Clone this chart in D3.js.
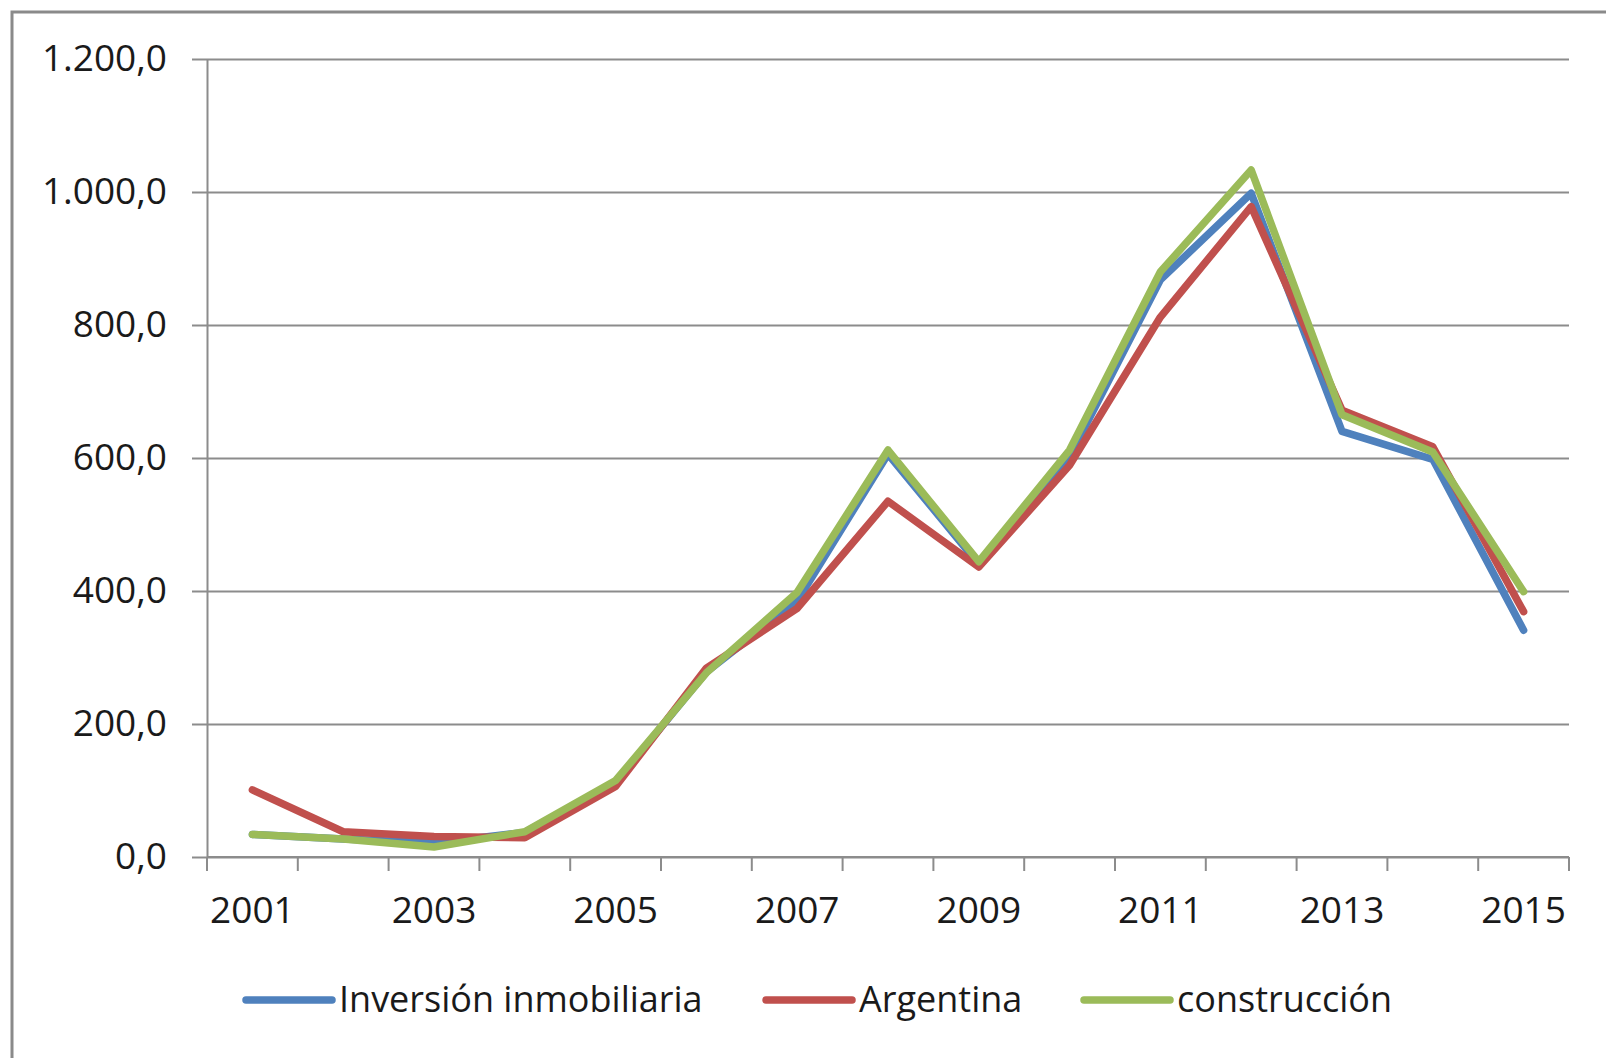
<!DOCTYPE html>
<html>
<head>
<meta charset="utf-8">
<script src="https://cdn.jsdelivr.net/npm/d3@7/dist/d3.min.js"></script>
<style>
    body { margin: 0; background: #fff; }
    svg text { font-family: "Open Sans", sans-serif; fill: #1a1a1a; }
</style>
</head>
<body>
<svg id="chart" width="1606" height="1058"></svg>
<script>

// Chart data
var years = ['2001', '2002', '2003', '2004', '2005', '2006', '2007', '2008',
             '2009', '2010', '2011', '2012', '2013', '2014', '2015'];
var yearLabels = ['2001', '2003', '2005', '2007', '2009', '2011', '2013', '2015'];
var yTicks = [0, 200, 400, 600, 800, 1000, 1200];

var inversion    = [34, 27, 21, 37, 112, 278, 385, 606, 440, 602, 868, 998, 640, 598, 341];
var argentina    = [101, 38, 31, 29, 106, 284, 374, 535, 436, 589, 812, 978, 672, 617, 369];
var construccion = [34, 27, 15, 38, 115, 277, 398, 612, 444, 612, 880, 1033, 665, 609, 399];

var seriesNames  = ['Inversión inmobiliaria', 'Argentina', 'construcción'];
var seriesColors = ['#4F81BD', '#C0504D', '#9BBB59'];

var series = [inversion, argentina, construccion];

var svg = d3.select('#chart');

var esLocale = d3.formatLocale({'decimal': ',', 'thousands': '.', 'grouping': [3], 'currency': ['', '']});
var fmt = esLocale.format(',.1f');

// plot area (not "top": that name is taken by window.top)
var plotL = 207, plotR = 1569, plotT = 59, plotB = 857;

var x = d3.scaleBand().domain(years).range([plotL, plotR]);
var y = d3.scaleLinear().domain([0, 1200]).range([plotB, plotT]);

// Outer frame (runs off the right and bottom edges)
svg.append('rect')
    .attr('x', 12).attr('y', 12)
    .attr('width', 1620).attr('height', 1070)
    .attr('fill', 'none')
    .attr('stroke', '#8a8a8a')
    .attr('stroke-width', 3);

//--------------------------------------------------------------
// Gridlines and y axis

var yAxis = d3.axisLeft(y)
    .tickValues(yTicks)
    .tickSize(-(plotR - plotL))
    .tickSizeOuter(0)
    .tickFormat(fmt);

var gy = svg.append('g')
    .attr('transform', 'translate(' + plotL + ',0)')
    .call(yAxis);

gy.select('.domain').attr('stroke', '#8c8c8c').attr('stroke-width', 2);
gy.selectAll('.tick line')
    .attr('x1', -15)
    .attr('stroke', '#8c8c8c')
    .attr('stroke-width', 2);
gy.selectAll('.tick text')
    .attr('x', -40)
    .style('font-size', '37px')
    .style('font-family', '"Open Sans", sans-serif')
    .attr('fill', '#1a1a1a');

//--------------------------------------------------------------
// x axis: ticks between categories, labels every other year

var gx = svg.append('g')
    .attr('transform', 'translate(0,' + plotB + ')');

gx.append('line')
    .attr('x1', plotL).attr('x2', plotR)
    .attr('stroke', '#8c8c8c').attr('stroke-width', 2);

var bounds = years.map(function(d){ return x(d); }).concat([plotR]);
gx.selectAll('line.tk')
    .data(bounds)
    .enter()
    .append('line')
      .attr('class', 'tk')
      .attr('x1', function(d){ return d; })
      .attr('x2', function(d){ return d; })
      .attr('y1', 0).attr('y2', 14)
      .attr('stroke', '#8c8c8c').attr('stroke-width', 2);

gx.selectAll('text')
    .data(yearLabels)
    .enter()
    .append('text')
      .attr('x', function(d){ return x(d) + x.bandwidth() / 2; })
      .attr('y', 66)
      .attr('text-anchor', 'middle')
      .style('font-size', '37px')
      .text(function(d){ return d; });

//--------------------------------------------------------------
// Lines

var line = d3.line()
    .x(function(d, i){ return x(years[i]) + x.bandwidth() / 2; })
    .y(function(d){ return y(d); });

svg.selectAll('path.series')
    .data(series)
    .enter()
    .append('path')
      .attr('class', 'series')
      .attr('d', line)
      .attr('fill', 'none')
      .attr('stroke', function(d, i){ return seriesColors[i]; })
      .attr('stroke-width', 7.5)
      .attr('stroke-linejoin', 'round')
      .attr('stroke-linecap', 'round');

//--------------------------------------------------------------
// Legend

var legendX = [246, 766, 1084];
var leg = svg.selectAll('g.legend')
    .data(seriesNames)
    .enter()
    .append('g')
      .attr('class', 'legend')
      .attr('transform', function(d, i){ return 'translate(' + legendX[i] + ',1000)'; });

leg.append('line')
    .attr('x1', 0).attr('x2', 86)
    .attr('stroke', function(d, i){ return seriesColors[i]; })
    .attr('stroke-width', 7.5)
    .attr('stroke-linecap', 'round');

leg.append('text')
    .attr('x', 93)
    .attr('y', 12)
    .style('font-size', '36px')
    .text(function(d){ return d; });

</script>
</body>
</html>
